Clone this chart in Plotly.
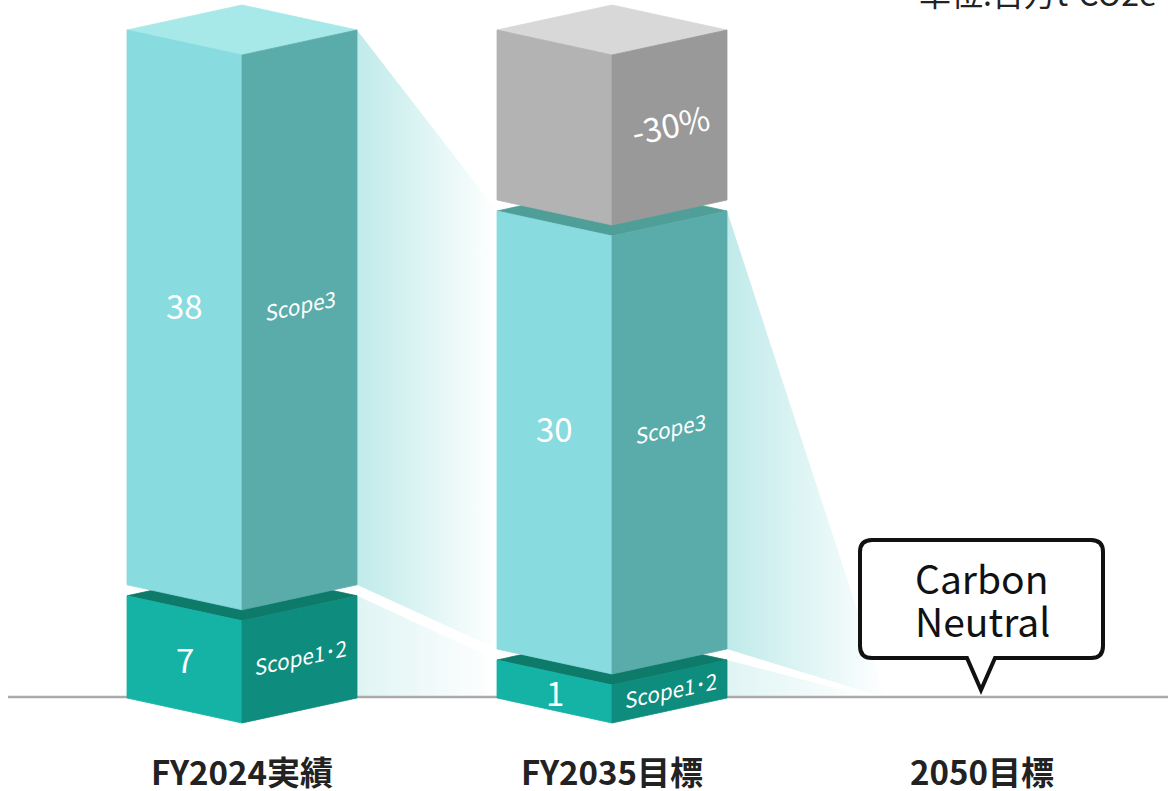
import plotly.graph_objects as go

# ---------------- data ----------------
categories = ["FY2024実績", "FY2035目標", "2050目標"]
scope12 = [7, 1, 0]
scope3 = [38, 30, 0]
scope12_name = "Scope1･2"
scope3_name = "Scope3"
reduction_label = "-30%"
unit_label = "単位:百万t-CO2e"
callout_lines = ["Carbon", "Neutral"]

# ---------------- geometry / scale ----------------
W, H = 1168, 791
PX_PER_UNIT = 14.6      # vertical px per Mt-CO2e
PX_PER_CAT = 370        # horizontal px per category step
X0_PX = 242             # px position of the first category
BASE_PX = 698           # px position of the base level

def xpx(p):
    return (p - X0_PX) / PX_PER_CAT

def ypx(p):
    return (BASE_PX - p) / PX_PER_UNIT

def dx(p):
    return p / PX_PER_CAT

def dy(p):
    return p / PX_PER_UNIT

HW = dx(115)        # half width of a bar
D = dy(25)          # isometric depth
GAP = dy(11)        # gap between stacked blocks
MIN_H = dy(38)      # minimum drawn height of a small block
FONT = "Noto Sans CJK JP"

C12 = dict(left="#14b3a5", right="#0e8c7d", top="#0e7a6a")
C3 = dict(left="#88dbdf", right="#5aacab", top="#a7e9e8", top_shaded="#4f9f98")
CG = dict(left="#b3b3b3", right="#999999", top="#d8d8d8")

fig = go.Figure()

def poly(xs, ys, color, **kw):
    fig.add_trace(go.Scatter(
        x=list(xs) + [xs[0]], y=list(ys) + [ys[0]], mode="lines",
        fill="toself", fillcolor=color, line=dict(color=color, width=0.8),
        hoverinfo="skip", showlegend=False, **kw))

def grad_poly(xs, ys, c0, c1):
    fig.add_trace(go.Scatter(
        x=list(xs) + [xs[0]], y=list(ys) + [ys[0]], mode="lines",
        fill="toself", line=dict(width=0),
        fillgradient=dict(type="horizontal", colorscale=[[0, c0], [1, c1]]),
        hoverinfo="skip", showlegend=False))

def block(xc, y0, y1, col, top_color):
    poly([xc - HW, xc, xc + HW, xc], [y1, y1 + D, y1, y1 - D], top_color)
    poly([xc - HW, xc, xc, xc - HW], [y0, y0 - D, y1 - D, y1], col["left"])
    poly([xc, xc + HW, xc + HW, xc], [y0 - D, y0, y1, y1 - D], col["right"])

# stack levels
h12 = [max(v, MIN_H) if v > 0 else 0 for v in scope12]
top12 = h12[:]
bot3 = [t + GAP for t in top12]
top3 = [b + v for b, v in zip(bot3, scope3)]
total_top = top3[0]

# ---------------- shadows ----------------
SH3 = ("#c0eaea", "#ffffff")
SH12 = ("#e0f4f4", "#ffffff")
grad_poly([0 + HW, 1 - HW, 1 - HW, 0 + HW], [total_top, top3[1], bot3[1], bot3[0]], *SH3)
grad_poly([0 + HW, 1 - HW, 1 - HW, 0 + HW], [top12[0], top12[1], 0, 0], *SH12)
x_end = 2 - HW + dx(19)
grad_poly([1 + HW, x_end, 1 + HW], [top3[1], 0, bot3[1]], *SH3)
grad_poly([1 + HW, x_end - dx(12), 1 + HW], [top12[1], 0, 0], *SH12)

# baseline
fig.add_trace(go.Scatter(x=[xpx(8), xpx(W)], y=[ypx(697), ypx(697)], mode="lines",
                         line=dict(color="#aaaaaa", width=2.5), hoverinfo="skip", showlegend=False))

# ---------------- bars ----------------
for i in range(2):
    block(i, 0, top12[i], C12, C12["top"])
    block(i, bot3[i], top3[i], C3, C3["top"] if i == 0 else C3["top_shaded"])
gray_bot = top3[1] + GAP
block(1, gray_bot, total_top, CG, CG["top"])

# ---------------- labels ----------------
ann = []
def label(x, y, text, size, angle=0, color="white", weight=400, style="normal"):
    ann.append(dict(x=x, y=y, xref="x", yref="y", text=text, showarrow=False,
                    textangle=angle,
                    font=dict(family=FONT, size=size, color=color, weight=weight, style=style),
                    xanchor="center", yanchor="middle"))

for i in range(2):
    m12 = top12[i] / 2 - D / 2
    label(i - HW / 2, m12, str(scope12[i]), 33)
    label(i + HW / 2, m12 + dy(2), scope12_name, 21, angle=-12, style="italic")
    m3 = (bot3[i] + top3[i]) / 2
    label(i - HW / 2, m3 + dy(2), str(scope3[i]), 33)
    label(i + HW / 2, m3 + dy(2), scope3_name, 21, angle=-12, style="italic")
label(1 + HW / 2, (gray_bot + total_top) / 2 - D / 2 + dy(4), reduction_label, 33, angle=-12)

for i, c in enumerate(categories):
    ann.append(dict(x=i, y=ypx(771), xref="x", yref="y", text=c, showarrow=False,
                    font=dict(family=FONT, size=33, color="#222222", weight=700),
                    xanchor="center", yanchor="middle"))

# unit label (cut at top edge, as in the original)
ann.append(dict(x=1159 / W, y=1 + 8 / H, xref="paper", yref="paper", text=unit_label,
                showarrow=False, xanchor="right", yanchor="middle",
                font=dict(family=FONT, size=32, color="#222222")))

# callout
cxp = X0_PX + 2 * PX_PER_CAT - 1
Lp, Rp, Tp, Bp, r, pw, apex = cxp - 121, cxp + 122, 540, 658, 12, 14, 690
pts = lambda px, py: f"{xpx(px)},{ypx(py)}"
path = (f"M {pts(Lp + r, Tp)} L {pts(Rp - r, Tp)} Q {pts(Rp, Tp)} {pts(Rp, Tp + r)} "
        f"L {pts(Rp, Bp - r)} Q {pts(Rp, Bp)} {pts(Rp - r, Bp)} "
        f"L {pts(cxp + pw, Bp)} L {pts(cxp, apex)} L {pts(cxp - pw, Bp)} "
        f"L {pts(Lp + r, Bp)} Q {pts(Lp, Bp)} {pts(Lp, Bp - r)} "
        f"L {pts(Lp, Tp + r)} Q {pts(Lp, Tp)} {pts(Lp + r, Tp)} Z")
fig.add_shape(type="path", path=path, xref="x", yref="y",
              line=dict(color="#111111", width=4), fillcolor="white", layer="above")
for txt, yp in zip(callout_lines, [577, 620]):
    ann.append(dict(x=2, y=ypx(yp), xref="x", yref="y", text=txt, showarrow=False,
                    font=dict(family=FONT, size=39, color="#111111", weight=400),
                    xanchor="center", yanchor="middle"))

fig.update_layout(
    width=W, height=H, autosize=False,
    margin=dict(l=0, r=0, t=0, b=0),
    paper_bgcolor="white", plot_bgcolor="white",
    xaxis=dict(range=[xpx(0), xpx(W)], visible=False, fixedrange=True),
    yaxis=dict(range=[ypx(H), ypx(0)], visible=False, fixedrange=True),
    annotations=ann, showlegend=False,
)

fig.write_html("out.html")
